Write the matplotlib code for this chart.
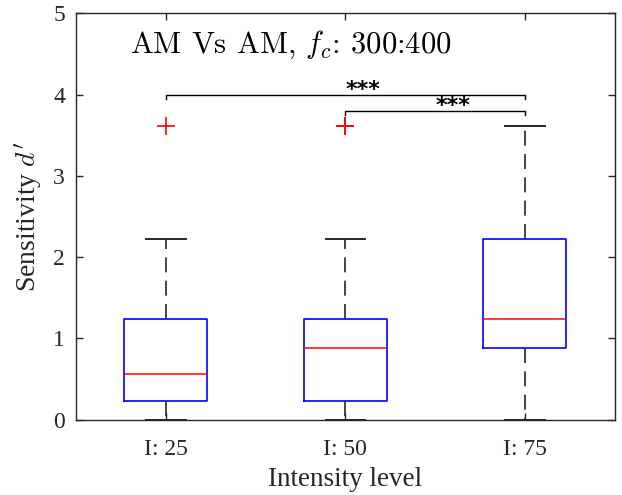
import numpy as np
import matplotlib.pyplot as plt

plt.rcParams['font.family'] = 'serif'
plt.rcParams['font.serif'] = ['Liberation Serif', 'DejaVu Serif']
plt.rcParams['mathtext.fontset'] = 'cm'

# box statistics
labels = ['I: 25', 'I: 50', 'I: 75']
q1 = [0.23, 0.23, 0.885]
med = [0.56, 0.885, 1.24]
q3 = [1.24, 1.24, 2.22]
whis_lo = [0.0, 0.0, 0.0]
whis_hi = [2.22, 2.22, 3.62]
outliers = [[3.62], [3.62, 3.62], []]

# significance brackets: (from, to, height, stars)
sig_pairs = [(1, 3, 4.0, '***'), (2, 3, 3.8, '***')]

stats = []
for i in range(len(labels)):
    stats.append(dict(med=med[i], q1=q1[i], q3=q3[i], whislo=whis_lo[i],
                      whishi=whis_hi[i], fliers=outliers[i], label=labels[i]))

fig = plt.figure(figsize=(6.22, 4.95), dpi=100)
ax = fig.add_axes([0.1222, 0.1525, 0.8658, 0.8203])

dark = '#262626'
ax.bxp(stats, positions=[1, 2, 3], widths=0.46, capwidths=0.22,
       boxprops=dict(color='blue', linewidth=1.2),
       medianprops=dict(color='red', linewidth=1.1),
       whiskerprops=dict(color=dark, linewidth=1.2, linestyle=(0, (9, 5))),
       capprops=dict(color=dark, linewidth=1.4),
       flierprops=dict(marker='+', markeredgecolor='red', markersize=13,
                       markeredgewidth=1.2, linestyle='none'))

for x0, x1, h, txt in sig_pairs:
    ax.plot([x0, x0, x1, x1], [h - 0.05, h, h, h - 0.05], color='black', lw=1.0)
    ax.text((x0 + x1) / 2 + 0.1, h + 0.06, txt, ha='center', va='center',
            fontsize=16, fontweight='bold', fontfamily=['DejaVu Sans'])

ax.text(0.8, 4.52, r"AM Vs AM, $f_c$: 300:400", fontsize=22,
        fontfamily=['cmr10'], math_fontfamily='cm')

ax.set_xlim(0.5, 3.5)
ax.set_ylim(0, 5)
ax.set_yticks([0, 1, 2, 3, 4, 5])
ax.set_xticks([1, 2, 3])
ax.set_xticklabels(labels)
ax.tick_params(direction='in', length=5, width=1, labelsize=17, color=dark,
               labelcolor=dark, top=True, right=True, pad=14)
ax.tick_params(axis='y', pad=8)
for s in ax.spines.values():
    s.set_color(dark)
    s.set_linewidth(1.0)

ax.set_xlabel('Intensity level', fontsize=19.5, labelpad=5, color=dark)
ax.set_ylabel(r"Sensitivity $d'$", fontsize=20, labelpad=6, color=dark)

fig.savefig('out.png', dpi=100)
